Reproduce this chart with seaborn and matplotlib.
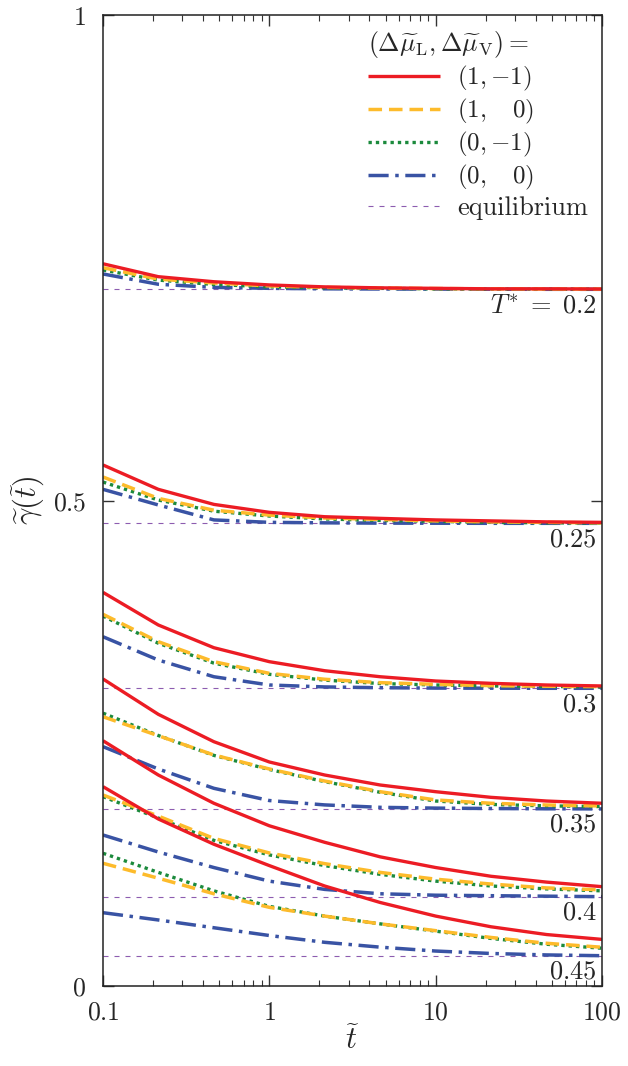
import numpy as np
import pandas as pd
import matplotlib
matplotlib.use("Agg")
import matplotlib.pyplot as plt
import matplotlib.transforms as mtransforms
from matplotlib.lines import Line2D
from matplotlib.ticker import FixedLocator, LogLocator, NullFormatter
import seaborn as sns

# ---------------- data ----------------
t_vals = [0.1, 0.215, 0.464, 1.0, 2.15, 4.64, 10.0, 21.5, 46.4, 100.0]
temps = [0.2, 0.25, 0.3, 0.35, 0.4, 0.45]
temp_labels = [r"$T^{*}\;=\;0.2$", r"$0.25$", r"$0.3$", r"$0.35$", r"$0.4$", r"$0.45$"]
equilibrium = [0.7175, 0.4765, 0.3066, 0.1823, 0.092, 0.031]

# (1,-1)
case_red = [
    [0.7438, 0.7305, 0.7253, 0.722, 0.720, 0.719, 0.7185, 0.718, 0.718, 0.7178],
    [0.5366, 0.5115, 0.496, 0.4878, 0.4833, 0.4816, 0.480, 0.479, 0.478, 0.4775],
    [0.4054, 0.3718, 0.3484, 0.334, 0.3247, 0.3185, 0.3141, 0.3117, 0.310, 0.309],
    [0.3162, 0.2798, 0.2516, 0.2307, 0.2173, 0.207, 0.2001, 0.1943, 0.1905, 0.1882],
    [0.2526, 0.2173, 0.1882, 0.165, 0.148, 0.133, 0.122, 0.113, 0.107, 0.1023],
    [0.2053, 0.172, 0.146, 0.124, 0.103, 0.086, 0.072, 0.061, 0.053, 0.048],
]
# (1, 0)
case_yellow = [
    [0.7398, 0.728, 0.724, 0.721, 0.7195, 0.7188, 0.7183, 0.718, 0.7178, 0.7177],
    [0.5242, 0.5022, 0.490, 0.485, 0.482, 0.4805, 0.479, 0.478, 0.4775, 0.477],
    [0.3828, 0.3546, 0.334, 0.322, 0.3159, 0.3124, 0.3107, 0.3093, 0.3087, 0.3083],
    [0.2773, 0.2578, 0.2379, 0.2235, 0.2111, 0.2001, 0.1916, 0.1882, 0.1864, 0.1854],
    [0.1967, 0.175, 0.152, 0.137, 0.126, 0.117, 0.110, 0.105, 0.101, 0.099],
    [0.1264, 0.111, 0.095, 0.081, 0.072, 0.064, 0.057, 0.050, 0.044, 0.0399],
]
# (0,-1)
case_green = [
    [0.7374, 0.727, 0.7225, 0.720, 0.719, 0.7185, 0.718, 0.7178, 0.7177, 0.7176],
    [0.519, 0.5005, 0.489, 0.484, 0.481, 0.4795, 0.4785, 0.4775, 0.477, 0.4768],
    [0.381, 0.353, 0.3325, 0.321, 0.315, 0.3115, 0.310, 0.309, 0.3085, 0.308],
    [0.281, 0.258, 0.2375, 0.223, 0.2105, 0.1995, 0.1905, 0.187, 0.1855, 0.1848],
    [0.195, 0.173, 0.150, 0.135, 0.124, 0.115, 0.108, 0.103, 0.100, 0.098],
    [0.1367, 0.117, 0.098, 0.082, 0.072, 0.064, 0.0565, 0.049, 0.043, 0.0389],
]
# (0, 0)
case_blue = [
    [0.7333, 0.7227, 0.7195, 0.7185, 0.718, 0.7178, 0.7177, 0.7176, 0.7175, 0.7175],
    [0.5115, 0.4954, 0.480, 0.4775, 0.477, 0.4767, 0.4766, 0.4765, 0.4765, 0.4765],
    [0.3597, 0.3357, 0.3185, 0.310, 0.308, 0.3072, 0.3068, 0.3067, 0.3066, 0.3066],
    [0.2465, 0.2235, 0.2036, 0.191, 0.1865, 0.184, 0.1832, 0.1828, 0.1825, 0.1824],
    [0.1555, 0.138, 0.122, 0.108, 0.0995, 0.095, 0.0935, 0.093, 0.0925, 0.092],
    [0.0755, 0.068, 0.060, 0.052, 0.045, 0.040, 0.036, 0.0335, 0.032, 0.0312],
]

case_labels = [r"$(1,{-1})$", r"$(1,\ \ \ 0)$", r"$(0,{-1})$", r"$(0,\ \ \ 0)$"]
legend_title = r"$(\Delta\widetilde{\mu}_{\rm L},\Delta\widetilde{\mu}_{\rm V})=$"

# ---------------- style ----------------
sns.set_theme(style="ticks")
plt.rcParams["mathtext.fontset"] = "cm"
plt.rcParams["font.family"] = ["DejaVu Serif"]
plt.rcParams["axes.unicode_minus"] = False

colors = {"red": "#ec1c24", "yellow": "#fdbb2b", "green": "#1b8a3c", "blue": "#3953a4"}
lws = {"red": 2.4, "yellow": 2.5, "green": 2.4, "blue": 2.5}
styles = {
    "red": (0, ()),
    "yellow": (0, (3.9, 2.0)),
    "green": (0, (1.0, 1.2)),
    "blue": (0, (5.8, 1.9, 1.0, 1.9)),
}
eq_color = "#8d5cb0"
eq_style = (0, (4.5, 5.4))

# long-form table
rows = []
for name, arr in [("blue", case_blue), ("green", case_green),
                  ("yellow", case_yellow), ("red", case_red)]:
    for T, vals in zip(temps, arr):
        for t, g in zip(t_vals, vals):
            rows.append({"case": name, "T": T, "t": t, "gamma": g})
df = pd.DataFrame(rows)

eq_rows = []
for T, g in zip(temps, equilibrium):
    for t in [t_vals[0], t_vals[-1]]:
        eq_rows.append({"T": T, "t": t, "gamma": g})
df_eq = pd.DataFrame(eq_rows)

fig = plt.figure(figsize=(6.28, 10.66), dpi=100)
ax = fig.add_axes([103 / 628, 80 / 1066, (602 - 103) / 628, (986 - 15) / 1066])

for T in temps:
    sub = df_eq[df_eq["T"] == T]
    sns.lineplot(data=sub, x="t", y="gamma", ax=ax, color=eq_color, lw=0.8,
                 linestyle=eq_style, legend=False, estimator=None, sort=False)

for name in ["blue", "green", "yellow", "red"]:
    for T in temps:
        sub = df[(df["case"] == name) & (df["T"] == T)]
        sns.lineplot(data=sub, x="t", y="gamma", ax=ax, color=colors[name], lw=lws[name],
                     linestyle=styles[name], legend=False, estimator=None, sort=False,
                     dash_capstyle="butt", solid_capstyle="butt")

ax.set_xscale("log")
ax.set_xlim(0.1, 100)
ax.set_ylim(0, 1)

ax.xaxis.set_major_locator(FixedLocator([0.1, 1, 10, 100]))
ax.xaxis.set_minor_locator(LogLocator(base=10, subs=np.arange(2, 10)))
ax.xaxis.set_minor_formatter(NullFormatter())
ax.set_xticklabels([r"$0.1$", r"$1$", r"$10$", r"$100$"])
ax.yaxis.set_major_locator(FixedLocator([0, 0.5, 1]))
ax.set_yticklabels([r"$0$", r"$0.5$", r"$1$"])

ax.tick_params(which="both", direction="in", top=True, right=True, labelsize=18.5,
               color="#333333")
ax.tick_params(which="major", length=8, width=1.0)
ax.tick_params(axis="y", which="major", pad=12)
ax.tick_params(axis="x", which="major", pad=10)
ax.tick_params(which="minor", length=4, width=0.8)
for s in ax.spines.values():
    s.set_linewidth(1.1)
    s.set_color("#222222")

ax.set_xlabel(r"$\widetilde{t}$", fontsize=22, labelpad=0)
ax.set_ylabel(r"$\widetilde{\gamma}(\widetilde{t})$", fontsize=22, labelpad=4)

# temperature labels
trans = mtransforms.blended_transform_factory(ax.transAxes, ax.transData)
for lab, g in zip(temp_labels, equilibrium):
    ax.annotate(lab, xy=(0.99, g), xycoords=trans, xytext=(0, -16.5),
                textcoords="offset points", ha="right", va="baseline", fontsize=19)

# legend
handles = []
for name, lab in zip(["red", "yellow", "green", "blue"], case_labels):
    handles.append(Line2D([], [], color=colors[name], lw=lws[name], linestyle=styles[name],
                          dash_capstyle="butt", label=lab))
handles.append(Line2D([], [], color=eq_color, lw=0.8, linestyle=eq_style,
                      label="equilibrium"))
leg = ax.legend(handles=handles, title=legend_title, loc="upper right",
                frameon=False, fontsize=18, title_fontsize=18.5,
                handlelength=2.9, handletextpad=0.68, labelspacing=0.16,
                borderaxespad=0.25, borderpad=0.3, bbox_to_anchor=(1.0, 1.0))
leg.get_texts()[-1].set_fontfamily("cmr10")
leg.get_texts()[-1].set_fontsize(19)
leg._legend_box.align = "left"

fig.savefig("out.png", dpi=100)
